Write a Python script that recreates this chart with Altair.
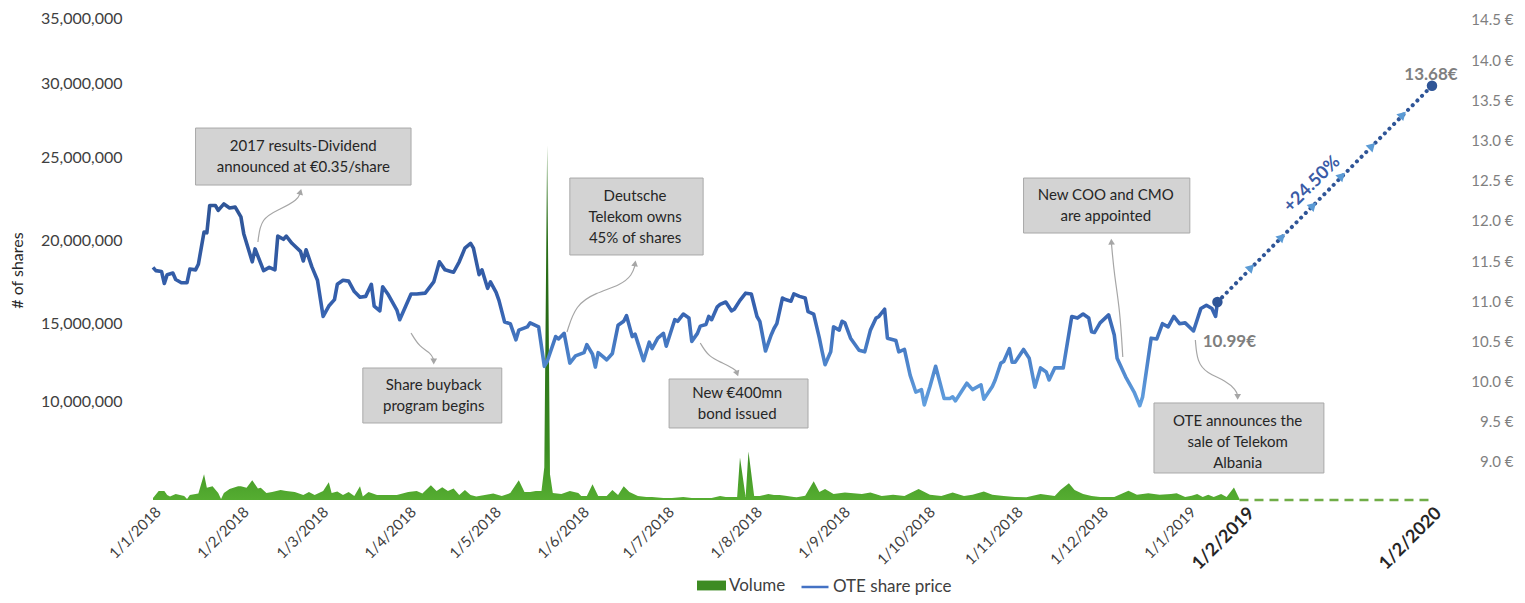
import altair as alt
import pandas as pd

BASE = pd.Timestamp("2018-01-01")

# ---- OTE share price: trading dates (days after 1 Jan 2018) and price in EUR
price_days = [0, 1, 3, 4, 5, 7, 8, 10, 12, 13,
              15, 16, 18, 19, 20, 22, 23, 25, 27, 29,
              31, 32, 35, 36, 39, 41, 43, 44, 46, 47,
              49, 52, 53, 54, 56, 58, 60, 62, 64, 65,
              67, 69, 71, 73, 75, 77, 78, 80, 81, 83,
              86, 87, 91, 93, 96, 99, 101, 103, 105, 106,
              108, 110, 112, 113, 115, 116, 118, 119, 121, 122,
              124, 126, 128, 129, 132, 133, 136, 138, 139, 142,
              143, 145, 147, 149, 152, 153, 155, 156, 157, 159,
              160, 162, 164, 166, 167, 169, 170, 172, 173, 175,
              176, 178, 180, 181, 183, 184, 185, 187, 189, 190,
              192, 193, 195, 196, 197, 199, 200, 202, 204, 205,
              207, 209, 211, 213, 214, 216, 218, 219, 220, 222,
              223, 225, 226, 228, 230, 231, 233, 235, 236, 237,
              239, 240, 242, 243, 244, 246, 249, 251, 253, 255,
              256, 258, 259, 262, 263, 265, 267, 269, 271, 272,
              274, 276, 279, 281, 282, 283, 285, 287, 289, 292,
              293, 296, 297, 299, 300, 302, 303, 304, 307, 309,
              311, 313, 315, 316, 318, 321, 324, 326, 328, 330,
              331, 332, 334, 337, 339, 340, 343, 346, 348, 349,
              352, 354, 356, 358, 360, 362, 364, 368, 372, 375,
              378, 380, 381]
price_vals = [11.42, 11.38, 11.37, 11.22, 11.33, 11.35, 11.27, 11.23, 11.23, 11.40,
              11.39, 11.46, 11.86, 11.85, 12.19, 12.19, 12.13, 12.21, 12.16, 12.17,
              12.05, 11.84, 11.49, 11.65, 11.38, 11.42, 11.39, 11.81, 11.77, 11.81,
              11.72, 11.62, 11.50, 11.64, 11.43, 11.26, 10.81, 10.94, 11.02, 11.21,
              11.26, 11.25, 11.12, 11.05, 11.06, 11.21, 10.94, 10.88, 11.18, 11.08,
              10.89, 10.77, 11.09, 11.09, 11.10, 11.24, 11.49, 11.39, 11.37, 11.36,
              11.49, 11.66, 11.72, 11.66, 11.33, 11.39, 11.16, 11.24, 11.11, 11.01,
              10.74, 10.72, 10.52, 10.64, 10.68, 10.73, 10.68, 10.19, 10.25, 10.56,
              10.53, 10.60, 10.23, 10.32, 10.36, 10.46, 10.34, 10.18, 10.36, 10.30,
              10.27, 10.35, 10.70, 10.75, 10.82, 10.56, 10.59, 10.37, 10.26, 10.49,
              10.41, 10.54, 10.60, 10.44, 10.66, 10.77, 10.75, 10.84, 10.79, 10.50,
              10.60, 10.69, 10.71, 10.81, 10.77, 10.93, 10.96, 10.99, 10.88, 10.90,
              11.01, 11.10, 11.09, 10.81, 10.75, 10.38, 10.58, 10.66, 10.72, 11.04,
              11.02, 11.00, 11.09, 11.06, 11.04, 10.87, 10.84, 10.54, 10.37, 10.21,
              10.37, 10.68, 10.64, 10.75, 10.73, 10.54, 10.39, 10.37, 10.64, 10.79,
              10.81, 10.90, 10.54, 10.51, 10.37, 10.40, 10.08, 9.87, 9.90, 9.71,
              9.94, 10.19, 9.79, 9.79, 9.81, 9.76, 9.87, 9.98, 9.90, 9.96,
              9.78, 9.94, 10.02, 10.23, 10.25, 10.41, 10.24, 10.24, 10.40, 10.29,
              9.93, 10.17, 10.12, 10.02, 10.17, 10.17, 10.81, 10.79, 10.84, 10.79,
              10.62, 10.61, 10.73, 10.83, 10.58, 10.29, 10.06, 9.87, 9.70, 9.81,
              10.54, 10.53, 10.72, 10.68, 10.81, 10.72, 10.73, 10.63, 10.91, 10.95,
              10.91, 10.81, 10.99]

# ---- traded volume: dates (days after 1 Jan 2018) and millions of shares
vol_days = [0, 2, 4, 5, 6, 8, 11, 12, 13, 16,
            18, 19, 21, 23, 24, 25, 27, 30, 31, 33,
            35, 37, 38, 40, 42, 45, 47, 50, 53, 55,
            57, 60, 62, 63, 65, 67, 69, 71, 73, 74,
            76, 79, 83, 86, 90, 93, 95, 98, 100, 102,
            104, 106, 108, 110, 112, 114, 117, 120, 123, 126,
            129, 131, 133, 135, 137, 138, 139, 140, 141, 144,
            147, 150, 151, 153, 155, 157, 160, 162, 164, 166,
            168, 171, 174, 176, 180, 183, 187, 190, 194, 197,
            200, 202, 205, 206, 207, 209, 210, 212, 214, 217,
            219, 221, 223, 226, 227, 230, 233, 235, 237, 240,
            244, 250, 253, 257, 261, 265, 270, 274, 278, 282,
            286, 289, 293, 296, 300, 304, 308, 313, 318, 320,
            323, 325, 328, 331, 334, 339, 344, 347, 351, 355,
            359, 361, 364, 367, 370, 373, 376, 379, 383, 386,
            390, 393]
vol_mn = [0.2, 0.9, 0.9, 0.5, 0.36, 0.6, 0.4, 0.1, 0.5, 0.65,
          2.6, 1.25, 1.4, 0.7, 0.1, 0.7, 1.1, 1.4, 1.4, 1.25,
          2.0, 1.15, 1.25, 0.7, 0.8, 1.0, 0.9, 0.8, 0.5, 0.8,
          0.5, 0.9, 1.8, 0.7, 0.85, 0.5, 0.8, 0.4, 1.4, 0.36,
          0.8, 0.5, 0.5, 0.5, 0.8, 0.9, 0.65, 1.5, 0.9, 1.3,
          0.9, 1.15, 0.5, 1.0, 0.5, 0.36, 0.5, 0.65, 0.4, 0.7,
          2.0, 0.8, 0.8, 0.9, 0.9, 3.3, 25.8, 2.6, 0.7, 0.6,
          0.9, 0.7, 0.4, 0.4, 1.6, 0.4, 0.4, 1.0, 0.5, 1.4,
          0.8, 0.4, 0.3, 0.3, 0.2, 0.2, 0.3, 0.2, 0.2, 0.2,
          0.4, 0.3, 0.3, 0.3, 4.3, 0.3, 4.9, 0.4, 0.4, 0.6,
          0.5, 0.5, 0.43, 0.3, 0.27, 0.43, 1.9, 0.8, 1.1, 0.6,
          0.77, 0.6, 0.77, 0.4, 0.53, 0.4, 1.1, 0.53, 0.4, 0.77,
          0.4, 0.53, 0.87, 0.53, 0.4, 0.3, 0.27, 0.6, 0.4, 1.0,
          1.7, 1.0, 0.6, 0.4, 0.3, 0.3, 0.93, 0.53, 0.67, 0.53,
          0.6, 0.67, 0.3, 0.43, 0.6, 0.3, 0.53, 0.3, 0.6, 0.3,
          1.27, 0.1]

assert len(price_days) == len(price_vals)
assert len(vol_days) == len(vol_mn)

# ---- projection
proj_dates = ["2019-01-17", "2020-02-01"]
proj_vals = [10.99, 13.68]
marker_dates = ["2019-02-13", "2019-04-14", "2019-06-14", "2019-08-09", "2019-10-07", "2019-12-06"]
marker_vals = [11.42, 11.80, 12.19, 12.56, 12.93, 13.32]
dash_dates = ["2019-01-29", "2020-02-01"]

# ---- annotation boxes
box_text = ["2017 results-Dividend\nannounced at €0.35/share",
            "Deutsche\nTelekom owns\n45% of shares",
            "New €400mn\nbond issued",
            "Share buyback\nprogram begins",
            "New COO and CMO\nare appointed",
            "OTE announces the\nsale of Telekom\nAlbania"]
box_start = ["2018-01-16", "2018-05-28", "2018-07-02", "2018-03-16", "2018-11-04", "2018-12-20"]
box_end = ["2018-04-02", "2018-07-14", "2018-08-20", "2018-05-04", "2019-01-02", "2019-07-05"]
box_top = [13.154, 12.532, 10.032, 10.169, 12.532, 9.734]
box_bottom = [12.445, 11.575, 9.423, 9.485, 11.848, 8.863]
box_mid_date = ["2018-02-23", "2018-06-20", "2018-07-26", "2018-04-10", "2018-12-03", "2019-01-28"]
box_mid_val = [12.80, 12.053, 9.728, 9.827, 12.19, 9.25]

# ---- callout arrows (curves) and their heads
arrow_id = ["a"] * 5 + ["b"] * 6 + ["c"] * 4 + ["d"] * 5 + ["e"] * 4 + ["f"] * 6
arrow_dates = ["2018-02-07", "2018-02-08", "2018-02-15", "2018-02-21", "2018-02-22",
               "2018-05-27", "2018-05-30", "2018-06-06", "2018-06-15", "2018-06-19", "2018-06-20",
               "2018-04-02", "2018-04-05", "2018-04-09", "2018-04-10",
               "2018-07-13", "2018-07-16", "2018-07-21", "2018-07-25", "2018-07-26",
               "2018-12-09", "2018-12-08", "2018-12-06", "2018-12-05",
               "2019-01-05", "2019-01-06", "2019-01-11", "2019-01-22", "2019-01-27", "2019-01-28"]
arrow_vals = [11.736, 12.035, 12.147, 12.259, 12.35,
              10.617, 10.953, 11.102, 11.201, 11.326, 11.45,
              10.604, 10.430, 10.356, 10.27,
              10.480, 10.306, 10.231, 10.157, 10.12,
              10.306, 10.891, 11.326, 11.72,
              10.517, 10.244, 10.107, 10.007, 9.896, 9.83]
head_dates = ["2018-02-22", "2018-06-20", "2018-04-10", "2018-07-26", "2018-12-05", "2019-01-28"]
head_vals = [12.36, 11.47, 10.25, 10.10, 11.74, 9.81]
head_angle = [15, 10, 180, 160, 357, 180]

# ---- labels
value_text = ["10.99€", "13.68€"]
value_dates = ["2019-01-09", "2020-01-30"]
value_vals = [10.493, 13.813]
pct_text = ["+24.50%"]
pct_dates = ["2019-06-12"]
pct_vals = [12.453]

# axis ticks
x_tick_dates = ["2018-01-01", "2018-02-01", "2018-03-01", "2018-04-01", "2018-05-01",
                "2018-06-01", "2018-07-01", "2018-08-01", "2018-09-01", "2018-10-01",
                "2018-11-01", "2018-12-01", "2019-01-01", "2019-02-01", "2020-02-01"]
vol_ticks = [10e6, 15e6, 20e6, 25e6, 30e6, 35e6]
price_ticks = [9.0, 9.5, 10.0, 10.5, 11.0, 11.5, 12.0, 12.5, 13.0, 13.5, 14.0, 14.5]


def days_of(dates):
    return [int((pd.Timestamp(d) - BASE).days) for d in dates]


price_df = pd.DataFrame({"day": price_days, "price": price_vals, "series": "OTE share price"})
vol_df = pd.DataFrame({"day": vol_days, "volume": [v * 1e6 for v in vol_mn], "series": "Volume"})
dash_df = pd.DataFrame({"day": days_of(dash_dates), "volume": [0, 0]})
proj_df = pd.DataFrame({"day": days_of(proj_dates), "price": proj_vals})
marker_df = pd.DataFrame({"day": days_of(marker_dates), "price": marker_vals})
box_df = pd.DataFrame({"start": days_of(box_start), "end": days_of(box_end), "top": box_top,
                       "bottom": box_bottom})
boxtext_df = pd.DataFrame({"day": days_of(box_mid_date), "price": box_mid_val, "text": box_text})
boxtext_df["lines"] = boxtext_df["text"].str.count("\n") + 1
arrow_df = pd.DataFrame({"id": arrow_id, "day": days_of(arrow_dates), "price": arrow_vals,
                         "order": list(range(len(arrow_id)))})
head_df = pd.DataFrame({"day": days_of(head_dates), "price": head_vals, "angle": head_angle})
value_df = pd.DataFrame({"day": days_of(value_dates), "price": value_vals, "text": value_text})
pct_df = pd.DataFrame({"day": days_of(pct_dates), "price": pct_vals, "text": pct_text})

FONT = "Lato"

# ---- scales (x: days after 1 Jan 2018, piecewise like the original category axis)
x_scale = alt.Scale(domain=days_of(["2018-01-01", "2019-01-01", "2019-02-01", "2020-02-01"]),
                    range=[8, 1043, 1100, 1287], nice=False, zero=False)
vol_scale = alt.Scale(domain=[0, 10e6, 15e6, 20e6, 25e6, 30e6, 35e6],
                      range=[487, 388, 310, 227, 144, 70, 5], nice=False, zero=False)
price_scale = alt.Scale(domain=[8.527, 14.585], nice=False, zero=False)

big = "datum.value > 370"
x_axis = alt.Axis(
    values=days_of(x_tick_dates), orient="bottom", title=None,
    labelExpr="timeFormat(datetime(2018, 0, 1 + datum.value), '%-d/%-m/%Y')",
    labelAngle=315, labelAlign="right", labelBaseline="top",
    labelPadding=4, ticks=False, domain=False, grid=False, labelOverlap=False,
    labelFlush=False, labelFont=FONT,
    labelFontSize={"condition": {"test": big, "value": 18}, "value": 15},
    labelFontWeight={"condition": {"test": big, "value": "bold"}, "value": "normal"},
    labelColor={"condition": {"test": big, "value": "#262626"}, "value": "#404040"})

vol_axis = alt.Axis(values=vol_ticks, format=",d", orient="left", ticks=False, domain=False,
                    grid=False, labelPadding=23, labelFont=FONT, labelFontSize=16,
                    labelColor="#404040", labelBaseline="middle",
                    titleFont=FONT, titleFontSize=16, titleFontWeight="normal",
                    titleColor="#262626", titleX=-128, titleY=257, titleAngle=270,
                    titleBaseline="middle", titleAlign="center")

price_axis = alt.Axis(values=price_ticks, orient="right", ticks=False, domain=False, grid=False,
                      labelExpr="format(datum.value, '.1f') + ' €'", labelAlign="right",
                      labelPadding=53, labelFont=FONT, labelFontSize=15, labelColor="#7f7f7f",
                      labelBaseline="middle")


def X(field="day"):
    # every layer carries the same x axis so that the shared axis is kept when merged
    return alt.X(f"{field}:Q", scale=x_scale, axis=x_axis, title=None)


def YV(axis=None, title=None):
    return alt.Y("volume:Q", scale=vol_scale, axis=axis, title=title)


def YP(field="price", axis=None):
    return alt.Y(f"{field}:Q", scale=price_scale, axis=axis, title=None)


vol_grad = alt.Gradient(gradient="linear", x1=0, x2=0, y1=0, y2=1, stops=[
    alt.GradientStop(color="#2C7419", offset=0),
    alt.GradientStop(color="#276A16", offset=0.5),
    alt.GradientStop(color="#3B8D22", offset=0.86),
    alt.GradientStop(color="#55AD31", offset=1)])
line_grad = alt.Gradient(gradient="linear", x1=0, x2=0, y1=0, y2=1, stops=[
    alt.GradientStop(color="#2F5597", offset=0),
    alt.GradientStop(color="#3560AE", offset=0.5),
    alt.GradientStop(color="#4A80C8", offset=0.75),
    alt.GradientStop(color="#62A0DF", offset=1)])

vol_legend = alt.Legend(title=None, orient="none", legendX=552, legendY=558, padding=0,
                        symbolType="M-1,-0.34L1,-0.34L1,0.34L-1,0.34Z", symbolSize=841,
                        symbolStrokeWidth=0, labelFont=FONT, labelFontSize=17,
                        labelColor="#404040", labelOffset=3)
line_legend = alt.Legend(title=None, orient="none", legendX=655, legendY=559, padding=0,
                         symbolType="stroke", symbolSize=729, symbolStrokeWidth=2.5,
                         labelFont=FONT, labelFontSize=17, labelColor="#404040", labelOffset=3)

# ---- volume (left axis)
vol_area = alt.Chart(vol_df).mark_area(color=vol_grad).encode(
    x=X(), y=YV(vol_axis, "# of shares"))
vol_key = alt.Chart(vol_df).mark_area(opacity=0).encode(
    x=X(), y=YV(),
    fill=alt.Fill("series:N", scale=alt.Scale(domain=["Volume"], range=["#3D8B23"]),
                  legend=vol_legend))
vol_dash = alt.Chart(dash_df).mark_line(color="#70AD47", strokeDash=[9, 6], strokeWidth=2.5).encode(
    x=X(), y=YV())

# ---- price (right axis)
line = alt.Chart(price_df).mark_line(color=line_grad, strokeWidth=3.6, strokeJoin="round").encode(
    x=X(), y=YP(axis=price_axis))
line_key = alt.Chart(price_df).mark_line(strokeWidth=3.5, strokeJoin="round", opacity=0).encode(
    x=X(), y=YP(),
    stroke=alt.Stroke("series:N", scale=alt.Scale(domain=["OTE share price"], range=["#4472C4"]),
                      legend=line_legend))
proj = alt.Chart(proj_df).mark_line(color="#2F5597", strokeWidth=4, strokeDash=[0.1, 6.5],
                                    strokeCap="round").encode(x=X(), y=YP())
proj_dots = alt.Chart(proj_df).mark_point(filled=True, size=110, color="#2F5597", opacity=1).encode(
    x=X(), y=YP())
markers = alt.Chart(marker_df).mark_point(shape="triangle-up", filled=True, size=95, angle=45,
                                          color="#5B9BD5", opacity=1).encode(x=X(), y=YP())
arrows = alt.Chart(arrow_df).mark_line(color="#a6a6a6", strokeWidth=1.2, interpolate="basis").encode(
    x=X(), y=YP(), detail="id:N", order="order:Q")
heads = alt.Chart(head_df).mark_point(shape="triangle-up", filled=True, size=45, color="#a6a6a6",
                                      opacity=1).encode(x=X(), y=YP(),
                                                        angle=alt.Angle("angle:Q", scale=None))
boxes = alt.Chart(box_df).mark_rect(fill="#d3d3d3", stroke="#a9a9a9", strokeWidth=1).encode(
    x=X("start"), x2="end:Q", y=YP("top"), y2="bottom:Q")
text_style = dict(font=FONT, fontSize=15, color="#262626", lineBreak="\n", lineHeight=21,
                  align="center", baseline="middle")
box_labels2 = alt.Chart(boxtext_df[boxtext_df["lines"] == 2]).mark_text(dy=-10.5, **text_style).encode(
    x=X(), y=YP(), text="text:N")
box_labels3 = alt.Chart(boxtext_df[boxtext_df["lines"] == 3]).mark_text(dy=-21, **text_style).encode(
    x=X(), y=YP(), text="text:N")
value_left = alt.Chart(value_df.iloc[[0]]).mark_text(font=FONT, fontSize=17, fontWeight="bold",
                                                     color="#7f7f7f", baseline="middle",
                                                     align="left").encode(
    x=X(), y=YP(), text="text:N")
value_center = alt.Chart(value_df.iloc[[1]]).mark_text(font=FONT, fontSize=17, fontWeight="bold",
                                                       color="#7f7f7f", baseline="middle",
                                                       align="center").encode(
    x=X(), y=YP(), text="text:N")
pct = alt.Chart(pct_df).mark_text(font=FONT, fontSize=18, fontWeight="bold", color="#3A5BA6",
                                  angle=315, align="center", baseline="middle").encode(
    x=X(), y=YP(), text="text:N")

chart = alt.layer(
    vol_area, vol_key, vol_dash,
    line, line_key, proj, markers, proj_dots, arrows, heads, boxes, box_labels2, box_labels3,
    value_left, value_center, pct
).resolve_scale(y="independent").properties(
    width=1315, height=487,
    autosize=alt.AutoSizeParams(type="none"),
    padding={"left": 137, "top": 5, "right": 57, "bottom": 95},
    background="white",
).configure(font=FONT).configure_view(stroke=None)

chart.save("out.html", embed_options={"renderer": "svg", "actions": False})
